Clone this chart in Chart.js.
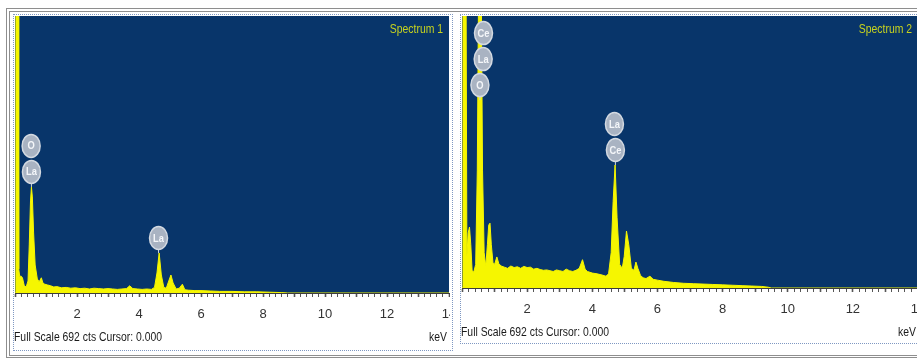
<!DOCTYPE html>
<html>
<head>
<meta charset="utf-8">
<script src="https://cdn.jsdelivr.net/npm/chart.js@4"></script>
<style>
  html, body { margin: 0; padding: 0; background: #fff; }
  body { width: 917px; height: 359px; overflow: hidden; position: relative; }
  .frame { position: absolute; left: 6px; top: 8px; width: 940px; height: 350px;
           border-top: 4px double #8e8e8e; border-left: 4px double #8e8e8e; border-bottom: 3px double #8e8e8e;
           box-sizing: border-box; }
  .panel { position: absolute; border: 1px dotted #7f98c2; background: #fff; }
  #p1 { left: 13px; top: 14px; width: 438px; height: 335px; }
  #p2 { left: 460px; top: 14px; width: 461px; height: 328px; }
  canvas { position: absolute; left: 0; top: 0; }
</style>
</head>
<body>
<div class="frame"></div>
<div class="panel" id="p1"><canvas id="spec1" width="436" height="333"></canvas></div>
<div class="panel" id="p2"><canvas id="spec2" width="459" height="326"></canvas></div>
<script>
// EDS spectra, energy in keV, intensity in counts (full scale 692 cts)
const fullScale = 692;
const tickStep = 0.2;

// Spectrum 1
const energies1 = [0, 0.03, 0.05, 0.1, 0.12, 0.15, 0.2, 0.24, 0.3, 0.36, 0.42, 0.46, 0.5, 0.53, 0.56, 0.6,
  0.65, 0.72, 0.78, 0.85, 0.9, 0.96, 1.05, 1.15, 1.25, 1.35, 1.5, 1.65, 1.8, 1.95, 2.1, 2.25,
  2.4, 2.55, 2.7, 2.85, 3.0, 3.15, 3.3, 3.45, 3.6, 3.7, 3.8, 3.95, 4.1, 4.25, 4.4, 4.5,
  4.58, 4.65, 4.72, 4.8, 4.88, 4.96, 5.03, 5.1, 5.2, 5.3, 5.4, 5.48, 5.6, 5.8, 6.0, 6.3,
  6.6, 7.0, 7.4, 7.8, 8.2, 8.6, 8.8, 14];
const counts1 = [0, 900, 900, 900, 60, 42, 42, 38, 18, 15, 30, 120, 230, 265, 240, 150,
  70, 35, 28, 38, 25, 22, 20, 18, 15, 16, 13, 14, 12, 13, 11, 12,
  10, 12, 11, 10, 11, 10, 9, 10, 11, 18, 11, 10, 9, 10, 9, 14,
  50, 100, 45, 14, 12, 30, 45, 25, 10, 12, 22, 8, 7, 6, 6, 5,
  4, 4, 3, 3, 2, 1, 0, 0];

// Spectrum 2
const energies2 = [0, 0.03, 0.06, 0.12, 0.15, 0.19, 0.23, 0.27, 0.31, 0.36, 0.42, 0.47, 0.52, 0.58, 0.63, 0.68,
  0.73, 0.78, 0.82, 0.86, 0.9, 0.95, 1.0, 1.07, 1.13, 1.2, 1.3, 1.4, 1.5, 1.6, 1.7, 1.8,
  1.9, 2.0, 2.1, 2.2, 2.3, 2.4, 2.5, 2.6, 2.7, 2.8, 2.9, 3.0, 3.1, 3.2, 3.3, 3.4,
  3.5, 3.6, 3.7, 3.78, 3.85, 4.0, 4.15, 4.3, 4.42, 4.5, 4.58, 4.64, 4.7, 4.76, 4.84, 4.92,
  4.98, 5.05, 5.12, 5.2, 5.28, 5.34, 5.4, 5.48, 5.56, 5.65, 5.77, 5.87, 6.0, 6.2, 6.5, 6.8,
  7.1, 7.4, 7.7, 8.0, 8.3, 8.6, 8.9, 9.2, 9.4, 9.5, 14];
const counts2 = [0, 900, 900, 900, 80, 140, 155, 110, 45, 40, 60, 300, 900, 900, 300, 90,
  55, 110, 160, 165, 110, 65, 60, 79, 62, 56, 53, 50, 56, 52, 54, 50,
  55, 52, 53, 48, 50, 47, 45, 46, 44, 42, 46, 44, 42, 48, 44, 42,
  45, 50, 72, 48, 42, 38, 36, 33, 30, 36, 90, 220, 313, 180, 60, 50,
  80, 145, 110, 50, 45, 66, 50, 32, 26, 24, 30, 22, 20, 17, 14, 12,
  11, 10, 9, 8, 7, 6, 5, 4, 2, 0, 0];

// element labels: stacked badges above a peak (bottom badge first)
const markers1 = [
  { at: 265, els: ['La', 'O'], keV: [0.53, 0.52] },
  { at: 100, els: ['La'], keV: [4.63] }
];
const markers2 = [
  { at: 478, els: ['O', 'La', 'Ce'], keV: [0.55, 0.65, 0.66] },
  { at: 313, els: ['Ce', 'La'], keV: [4.71, 4.68] }
];

const toPoints = (xs, ys) => xs.map((e, i) => ({ x: e, y: ys[i] }));

// condensed text like the INCA screen font
const drawText = (ctx, text, x, y, align, font, color, squeeze) => {
  ctx.save();
  ctx.font = font;
  ctx.fillStyle = color;
  ctx.textBaseline = 'middle';
  const w = ctx.measureText(text).width * squeeze;
  let left = x;
  if (align === 'right') left = x - w;
  if (align === 'center') left = x - w / 2;
  ctx.translate(left, y);
  ctx.scale(squeeze, 1);
  ctx.textAlign = 'left';
  ctx.fillText(text, 0, 0);
  ctx.restore();
};

const drawBadge = (ctx, cx, cy, el) => {
  ctx.save();
  ctx.beginPath();
  ctx.ellipse(cx, cy, 9, 11.5, 0, 0, Math.PI * 2);
  ctx.fillStyle = '#a9b3c2';
  ctx.fill();
  ctx.lineWidth = 1.5;
  ctx.strokeStyle = '#d3d9e1';
  ctx.stroke();
  ctx.restore();
  drawText(ctx, el, cx, cy + 0.5, 'center', 'bold 11px "Liberation Sans", Arial', '#f4f6f9', 0.85);
};

const spectrumDecor = {
  id: 'spectrumDecor',
  afterDatasetsDraw(chart, args, opts) {
    const { ctx, scales: { x, y } } = chart;
    opts.markers.forEach(m => {
      const py = y.getPixelForValue(Math.min(m.at, y.max));
      const px0 = x.getPixelForValue(m.keV[0]);
      ctx.save();
      ctx.strokeStyle = '#cfd5de';
      ctx.lineWidth = 1;
      ctx.beginPath();
      ctx.moveTo(px0, py);
      ctx.lineTo(px0, py - 5);
      ctx.stroke();
      ctx.restore();
      m.els.forEach((el, i) => {
        drawBadge(ctx, x.getPixelForValue(m.keV[i]), py - 15 - i * 26, el);
      });
    });
  },
  afterDraw(chart, args, opts) {
    const { ctx, chartArea: a } = chart;
    drawText(ctx, opts.title, a.right - 6, a.top + 13, 'right', '13px "Liberation Sans", Arial', '#c8d31e', 0.8);
    drawText(ctx, 'Full Scale 692 cts Cursor: 0.000', 0, a.bottom + 44, 'left', '13px "Liberation Sans", Arial', '#1a1a1a', opts.squeeze);
    drawText(ctx, 'keV', a.right - 2, a.bottom + 44, 'right', '13px "Liberation Sans", Arial', '#1a1a1a', opts.squeeze);
  }
};

const makeSpectrum = (id, points, title, markers, axisHeight, padRight, squeeze) => {
  new Chart(document.getElementById(id), {
    type: 'line',
    data: {
      datasets: [{
        data: points,
        borderColor: '#f6f600',
        backgroundColor: '#f6f600',
        borderWidth: 1,
        fill: 'origin',
        pointRadius: 0,
        tension: 0
      }]
    },
    options: {
      responsive: false,
      animation: false,
      events: [],
      layout: { padding: { left: 1, top: 1, right: padRight, bottom: 0 }, autoPadding: false },
      scales: {
        x: {
          type: 'linear',
          min: 0,
          max: 14,
          afterFit: (axis) => { axis.height = axisHeight; axis.paddingLeft = 0; axis.paddingRight = 0; },
          afterBuildTicks: (axis) => {
            axis.ticks = [];
            for (let i = 0; i <= 70; i++) axis.ticks.push({ value: i * tickStep });
          },
          border: { display: true, color: '#3c3c3c', width: 1 },
          grid: {
            drawOnChartArea: false,
            drawTicks: true,
            tickLength: 4,
            tickColor: '#555',
            tickWidth: (c) => (Math.abs(c.tick.value - Math.round(c.tick.value)) < 1e-6 ? 1.6 : 1)
          },
          ticks: {
            autoSkip: false,
            maxRotation: 0,
            padding: 10,
            color: '#333',
            font: { family: '"Liberation Sans", Arial', size: 13 },
            callback: (v) => {
              const r = Math.round(v * 10) / 10;
              return (r > 0 && Math.abs(r % 2) < 1e-6) ? String(r) : '';
            }
          }
        },
        y: { display: false, min: 0, max: fullScale }
      },
      plugins: {
        legend: { display: false },
        tooltip: { enabled: false },
        spectrumDecor: { title: title, markers: markers, squeeze: squeeze }
      }
    },
    plugins: [
      { id: 'plotBg', beforeDraw(chart) {
          const { ctx, chartArea: a } = chart;
          ctx.save();
          ctx.fillStyle = '#08356a';
          ctx.fillRect(a.left, a.top, a.right - a.left, a.bottom - a.top);
          ctx.restore();
      } },
      spectrumDecor
    ]
  });
};

makeSpectrum('spec1', toPoints(energies1, counts1), 'Spectrum 1', markers1, 55, 1, 0.8);
makeSpectrum('spec2', toPoints(energies2, counts2), 'Spectrum 2', markers2, 53, 2, 0.8);
</script>
</body>
</html>
